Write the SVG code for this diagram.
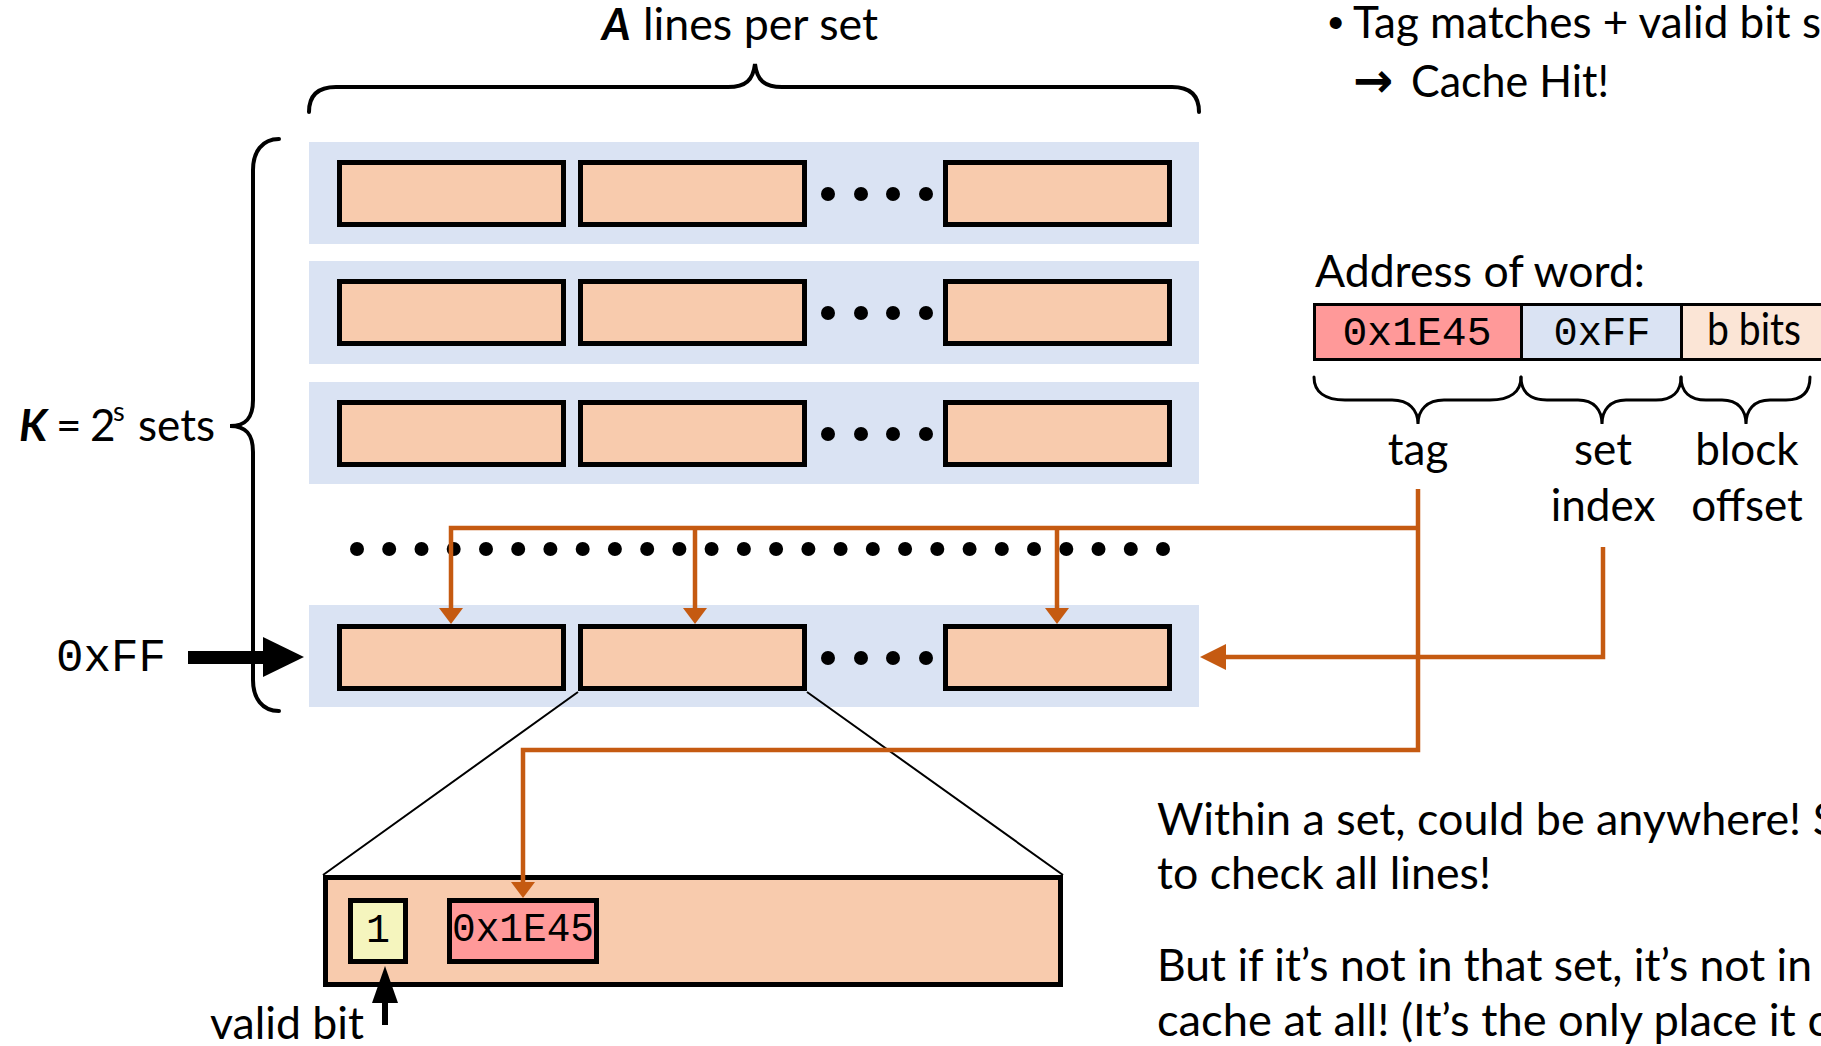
<svg xmlns="http://www.w3.org/2000/svg" width="1821" height="1046" viewBox="0 0 1821 1046">
  <defs>
    <style>
      .txt { font-family: Lato, "Liberation Sans", sans-serif; font-size: 44px; fill: #000; }
      .bi { font-weight: bold; font-style: italic; }
      .mono { font-family: "Liberation Mono", "DejaVu Sans Mono", monospace; fill: #000; }
      .setbg { fill: #DAE3F3; stroke: none; }
      .cline { fill: #F8CBAD; stroke: #000; stroke-width: 5; }
      .dot { fill: #000; }
      .brace { fill: none; stroke: #000; stroke-width: 4; stroke-linecap: round; }
      .brace-s { fill: none; stroke: #000; stroke-width: 3; stroke-linecap: round; }
      .wire { fill: none; stroke: #C55A11; stroke-width: 4.5; stroke-linejoin: miter; }
      .zoomline { fill: none; stroke: #000; stroke-width: 2; }
      .cell { stroke: #000; stroke-width: 3; }
    </style>
    <marker id="ah" viewBox="0 0 16 24" refX="0" refY="12" markerWidth="16" markerHeight="24" markerUnits="userSpaceOnUse" orient="auto">
      <path d="M0,0 L16,12 L0,24 z" fill="#C55A11"/>
    </marker>
    <marker id="ah-big" viewBox="0 0 26 26" refX="0" refY="13" markerWidth="26" markerHeight="26" markerUnits="userSpaceOnUse" orient="auto">
      <path d="M0,0 L26,13 L0,26 z" fill="#C55A11"/>
    </marker>
  </defs>

  <!-- Heading over the ways: brace + label -->
  <g id="ways-label">
    <path class="brace" d="M309,112 C309,95 318,87 336,87 L728,87 C746,87 753,80 755,64 C757,80 764,87 782,87 L1172,87 C1190,87 1199,95 1199,112"/>
    <text class="txt" y="40"><tspan class="bi" x="602">A</tspan><tspan x="643" textLength="235" lengthAdjust="spacingAndGlyphs">lines per set</tspan></text>
  </g>

  <!-- Number of sets: brace + label -->
  <g id="sets-label">
    <path class="brace" d="M279,139 C262,139 253,152 253,170 L253,400 C253,418 246,426 230,426 C246,426 253,434 253,452 L253,680 C253,698 262,711 279,711"/>
    <text class="txt" y="441"><tspan class="bi" x="19">K</tspan><tspan x="56">=</tspan><tspan x="90">2</tspan><tspan x="113" y="421" font-size="27">s</tspan><tspan x="138" y="441">sets</tspan></text>
  </g>

  <!-- Cache sets, each with A lines -->
  <g id="set-1">
    <rect class="setbg" x="309" y="142" width="890" height="102"/>
    <rect class="cline" x="339.5" y="162.5" width="224" height="62"/>
    <rect class="cline" x="580.5" y="162.5" width="224" height="62"/>
    <rect class="cline" x="945.5" y="162.5" width="224" height="62"/>
    <circle class="dot" cx="828" cy="194" r="7"/><circle class="dot" cx="861" cy="194" r="7"/><circle class="dot" cx="893" cy="194" r="7"/><circle class="dot" cx="926" cy="194" r="7"/>
  </g>
  <g id="set-2">
    <rect class="setbg" x="309" y="261" width="890" height="103"/>
    <rect class="cline" x="339.5" y="281.5" width="224" height="62"/>
    <rect class="cline" x="580.5" y="281.5" width="224" height="62"/>
    <rect class="cline" x="945.5" y="281.5" width="224" height="62"/>
    <circle class="dot" cx="828" cy="313" r="7"/><circle class="dot" cx="861" cy="313" r="7"/><circle class="dot" cx="893" cy="313" r="7"/><circle class="dot" cx="926" cy="313" r="7"/>
  </g>
  <g id="set-3">
    <rect class="setbg" x="309" y="382" width="890" height="102"/>
    <rect class="cline" x="339.5" y="402.5" width="224" height="62"/>
    <rect class="cline" x="580.5" y="402.5" width="224" height="62"/>
    <rect class="cline" x="945.5" y="402.5" width="224" height="62"/>
    <circle class="dot" cx="828" cy="434" r="7"/><circle class="dot" cx="861" cy="434" r="7"/><circle class="dot" cx="893" cy="434" r="7"/><circle class="dot" cx="926" cy="434" r="7"/>
  </g>
  <g id="set-ellipsis">
    <circle class="dot" cx="357" cy="549" r="7"/><circle class="dot" cx="389.2" cy="549" r="7"/><circle class="dot" cx="421.5" cy="549" r="7"/><circle class="dot" cx="453.7" cy="549" r="7"/>
    <circle class="dot" cx="486" cy="549" r="7"/><circle class="dot" cx="518.2" cy="549" r="7"/><circle class="dot" cx="550.4" cy="549" r="7"/><circle class="dot" cx="582.7" cy="549" r="7"/>
    <circle class="dot" cx="614.9" cy="549" r="7"/><circle class="dot" cx="647.2" cy="549" r="7"/><circle class="dot" cx="679.4" cy="549" r="7"/><circle class="dot" cx="711.6" cy="549" r="7"/>
    <circle class="dot" cx="743.9" cy="549" r="7"/><circle class="dot" cx="776.1" cy="549" r="7"/><circle class="dot" cx="808.4" cy="549" r="7"/><circle class="dot" cx="840.6" cy="549" r="7"/>
    <circle class="dot" cx="872.8" cy="549" r="7"/><circle class="dot" cx="905.1" cy="549" r="7"/><circle class="dot" cx="937.3" cy="549" r="7"/><circle class="dot" cx="969.6" cy="549" r="7"/>
    <circle class="dot" cx="1001.8" cy="549" r="7"/><circle class="dot" cx="1034" cy="549" r="7"/><circle class="dot" cx="1066.3" cy="549" r="7"/><circle class="dot" cx="1098.5" cy="549" r="7"/>
    <circle class="dot" cx="1130.8" cy="549" r="7"/><circle class="dot" cx="1163" cy="549" r="7"/>
  </g>
  <g id="set-selected">
    <rect class="setbg" x="309" y="605" width="890" height="102"/>
    <rect class="cline" x="339.5" y="626.5" width="224" height="62"/>
    <rect class="cline" x="580.5" y="626.5" width="224" height="62"/>
    <rect class="cline" x="945.5" y="626.5" width="224" height="62"/>
    <circle class="dot" cx="828" cy="658" r="7"/><circle class="dot" cx="861" cy="658" r="7"/><circle class="dot" cx="893" cy="658" r="7"/><circle class="dot" cx="926" cy="658" r="7"/>
  </g>

  <!-- Set index input -->
  <g id="index-input">
    <text class="mono" x="56" y="671" font-size="46" textLength="110" lengthAdjust="spacingAndGlyphs">0xFF</text>
    <rect x="188" y="651" width="76" height="13" fill="#000"/>
    <polygon points="263,637 263,677 304,657" fill="#000"/>
  </g>

  <!-- Enlarged view of one line -->
  <g id="line-detail">
    <path class="zoomline" d="M578,692 L323,875 M807,692 L1063,875"/>
    <rect x="325.5" y="877.5" width="735" height="107" fill="#F8CBAD" stroke="#000" stroke-width="5"/>
    <rect x="350.5" y="900.5" width="55" height="61" fill="#F5F5BE" stroke="#000" stroke-width="5"/>
    <text class="mono" x="378" y="942" font-size="40" text-anchor="middle">1</text>
    <rect x="449.5" y="900.5" width="147" height="61" fill="#FF9999" stroke="#000" stroke-width="5"/>
    <text class="mono" x="523" y="941" font-size="40" text-anchor="middle" textLength="142" lengthAdjust="spacingAndGlyphs">0x1E45</text>
    <rect x="382" y="999" width="6" height="26" fill="#000"/>
    <polygon points="372,1003 398,1003 385,966" fill="#000"/>
    <text class="txt" x="210" y="1039" textLength="154" lengthAdjust="spacingAndGlyphs">valid bit</text>
  </g>

  <!-- Address split into fields -->
  <g id="address">
    <text class="txt" x="1315" y="287" textLength="330" lengthAdjust="spacingAndGlyphs">Address of word:</text>
    <rect class="cell" x="1314.5" y="304.5" width="207" height="55" fill="#FF9999"/>
    <rect class="cell" x="1521.5" y="304.5" width="160" height="55" fill="#DAE3F3"/>
    <rect class="cell" x="1681.5" y="304.5" width="160" height="55" fill="#FBE5D6"/>
    <text class="mono" x="1417" y="345" font-size="41" text-anchor="middle" textLength="149" lengthAdjust="spacingAndGlyphs">0x1E45</text>
    <text class="mono" x="1602" y="345" font-size="41" text-anchor="middle" textLength="97" lengthAdjust="spacingAndGlyphs">0xFF</text>
    <text class="txt" x="1707" y="345" font-size="40" textLength="94" lengthAdjust="spacingAndGlyphs">b bits</text>
    <path class="brace-s" d="M1314,377 C1314,392 1325,400 1345,400 L1392,400 C1409,400 1418,410 1418,424 C1418,410 1427,400 1444,400 L1490,400 C1510,400 1521,392 1521,377"/>
    <path class="brace-s" d="M1521,377 C1521,392 1530,400 1547,400 L1578,400 C1594,400 1602,410 1602,424 C1602,410 1610,400 1626,400 L1656,400 C1672,400 1681,392 1681,377"/>
    <path class="brace-s" d="M1681,377 C1681,392 1690,400 1706,400 L1722,400 C1738,400 1746,410 1746,424 C1746,410 1754,400 1770,400 L1786,400 C1802,400 1810,392 1810,377"/>
    <text class="txt" x="1418" y="465" text-anchor="middle">tag</text>
    <text class="txt" x="1603" y="465" text-anchor="middle">set</text>
    <text class="txt" x="1603" y="521" text-anchor="middle">index</text>
    <text class="txt" x="1747" y="465" text-anchor="middle">block</text>
    <text class="txt" x="1747" y="521" text-anchor="middle">offset</text>
  </g>

  <!-- Lookup wiring: tag compared in every line, index selects the set -->
  <g id="connectors">
    <path class="wire" d="M1418,489 L1418,750 L523,750 L523,882" marker-end="url(#ah)"/>
    <path class="wire" d="M1418,528 L451,528 L451,608" marker-end="url(#ah)"/>
    <path class="wire" d="M695,528 L695,608" marker-end="url(#ah)"/>
    <path class="wire" d="M1057,528 L1057,608" marker-end="url(#ah)"/>
    <path class="wire" d="M1603,547 L1603,657 L1226,657" marker-end="url(#ah-big)"/>
  </g>

  <!-- Notes -->
  <g id="notes">
    <text x="1328" y="38" font-family="'Liberation Sans', sans-serif" font-size="44">•</text>
    <text class="txt" x="1353" y="38" textLength="468" lengthAdjust="spacingAndGlyphs">Tag matches + valid bit s</text>
    <text class="txt" y="97"><tspan x="1353" font-family="'DejaVu Sans', sans-serif" font-weight="bold" font-size="48">→</tspan><tspan x="1411" textLength="198" lengthAdjust="spacingAndGlyphs">Cache Hit!</tspan></text>
    <text class="txt" x="1157" y="835" textLength="680" lengthAdjust="spacingAndGlyphs">Within a set, could be anywhere! S</text>
    <text class="txt" x="1157" y="889" textLength="334" lengthAdjust="spacingAndGlyphs">to check all lines!</text>
    <text class="txt" x="1157" y="981" textLength="655" lengthAdjust="spacingAndGlyphs">But if it’s not in that set, it’s not in</text>
    <text class="txt" x="1157" y="1036" textLength="672" lengthAdjust="spacingAndGlyphs">cache at all! (It’s the only place it c</text>
  </g>
</svg>
